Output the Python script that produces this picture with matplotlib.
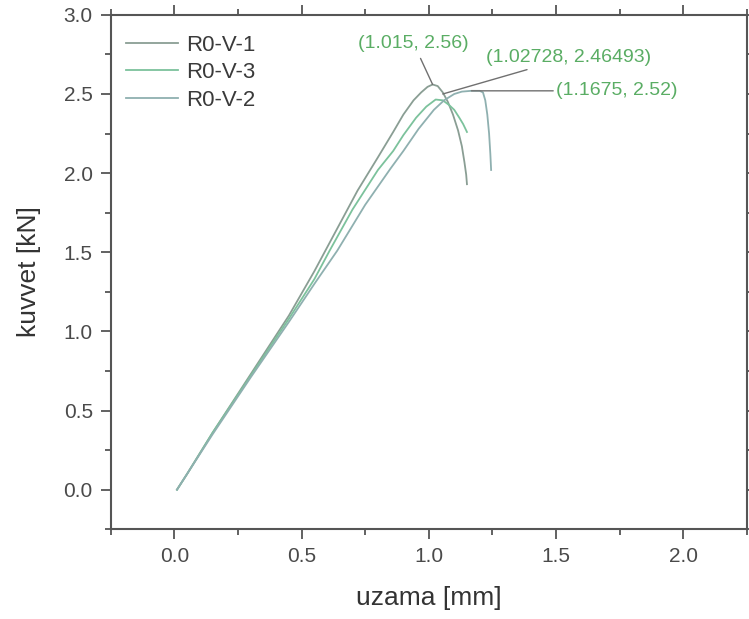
import numpy as np
import matplotlib.pyplot as plt

plt.rcParams['font.family'] = ['Liberation Sans', 'DejaVu Sans']

# R0-V-1 (highest peak)
x_v1 = [0.01, 0.05, 0.15, 0.30, 0.45, 0.55, 0.65, 0.72, 0.80, 0.86, 0.90, 0.94, 0.97,
        0.995, 1.015, 1.035, 1.055, 1.075, 1.095, 1.115, 1.13, 1.14, 1.147, 1.15]
y_v1 = [0.0, 0.10, 0.36, 0.73, 1.10, 1.38, 1.68, 1.89, 2.10, 2.26, 2.37, 2.46, 2.51,
        2.545, 2.56, 2.55, 2.51, 2.45, 2.37, 2.27, 2.17, 2.07, 1.99, 1.93]

# R0-V-3
x_v3 = [0.01, 0.05, 0.15, 0.30, 0.45, 0.55, 0.61, 0.70, 0.80, 0.86, 0.90, 0.95, 0.99,
        1.027, 1.055, 1.08, 1.10, 1.12, 1.135, 1.15]
y_v3 = [0.0, 0.10, 0.36, 0.72, 1.08, 1.33, 1.51, 1.77, 2.02, 2.14, 2.24, 2.35, 2.42,
        2.465, 2.46, 2.43, 2.40, 2.35, 2.31, 2.26]

# R0-V-2 (plateau then drop)
x_v2 = [0.01, 0.05, 0.15, 0.30, 0.45, 0.55, 0.64, 0.75, 0.85, 0.90, 0.96, 1.02, 1.06,
        1.10, 1.13, 1.1675, 1.20, 1.213, 1.222, 1.23, 1.237, 1.242, 1.245]
y_v2 = [0.0, 0.10, 0.35, 0.71, 1.06, 1.30, 1.51, 1.80, 2.03, 2.14, 2.28, 2.40, 2.46,
        2.50, 2.515, 2.52, 2.52, 2.51, 2.46, 2.37, 2.25, 2.12, 2.02]

labels = ["R0-V-1", "R0-V-3", "R0-V-2"]
colors = ["#8a9e94", "#7cc29c", "#8fb0b0"]

# annotated peaks: (point, text position)
peaks = [(1.015, 2.56), (1.02728, 2.46493), (1.1675, 2.52)]
peak_text = ["(1.015, 2.56)", "(1.02728, 2.46493)", "(1.1675, 2.52)"]
text_pos = [(0.94, 2.82), (1.55, 2.73), (1.50, 2.52)]

fig = plt.figure(figsize=(7.49, 6.19), dpi=100)
ax = fig.add_axes([0.148, 0.145, 0.849, 0.831])

for xs, ys, lab, c in zip([x_v1, x_v3, x_v2], [y_v1, y_v3, y_v2], labels, colors):
    ax.plot(xs, ys, color=c, lw=1.3, label=lab)

ann_green = "#5aad64"
leader = dict(arrowstyle="-", color="#707070", lw=1, shrinkB=0)
ax.annotate(peak_text[0], xy=peaks[0], xytext=text_pos[0], ha="center", va="center",
            fontsize=14, color=ann_green, arrowprops=dict(leader, shrinkA=3))
ax.annotate(peak_text[1], xy=(1.055, 2.50), xytext=text_pos[1], ha="center", va="center",
            fontsize=14, color=ann_green, arrowprops=dict(leader, shrinkA=2))
ax.annotate(peak_text[2], xy=peaks[2], xytext=text_pos[2], ha="left", va="center",
            fontsize=14, color=ann_green, arrowprops=dict(leader, shrinkA=0))

ax.set_xlim(-0.25, 2.25)
ax.set_ylim(-0.25, 3.0)
ax.set_xticks([0.0, 0.5, 1.0, 1.5, 2.0])
ax.set_yticks([0.0, 0.5, 1.0, 1.5, 2.0, 2.5, 3.0])
ax.set_xticks(np.arange(-0.25, 2.3, 0.25), minor=True)
ax.set_yticks(np.arange(-0.25, 3.0, 0.25), minor=True)
ax.set_xticklabels(["0.0", "0.5", "1.0", "1.5", "2.0"])
ax.set_yticklabels(["0.0", "0.5", "1.0", "1.5", "2.0", "2.5", "3.0"])

spine_c = "#555555"
for s in ax.spines.values():
    s.set_color(spine_c)
    s.set_linewidth(1.5)
ax.tick_params(which="both", direction="out", color=spine_c, width=1.3,
               top=True, right=True, labelsize=15, labelcolor="#4a4a4a")
ax.tick_params(which="major", length=7, pad=6)
ax.tick_params(which="minor", length=4)

ax.set_xlabel("uzama [mm]", fontsize=19, color="#333333", labelpad=14)
ax.set_ylabel("kuvvet [kN]", fontsize=19, color="#333333", labelpad=16)

ax.legend(loc="upper left", bbox_to_anchor=(0.0, 0.992), frameon=False, fontsize=16,
          handlelength=2.3, handletextpad=0.4, labelspacing=0.3, borderaxespad=0.3,
          labelcolor="#3a3a3a")

fig.savefig("out.png", dpi=100)
